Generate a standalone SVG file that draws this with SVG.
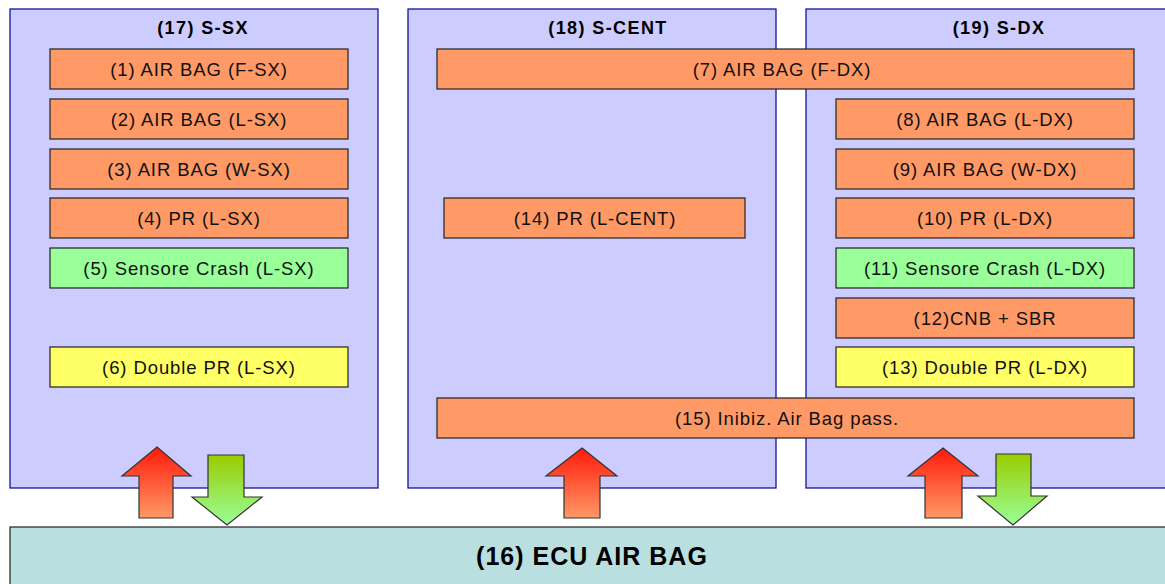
<svg xmlns="http://www.w3.org/2000/svg" width="1165" height="584" viewBox="0 0 1165 584">
<style>
.panel{fill:#ccccff;stroke:#000099;stroke-width:1.2}
.title{font-family:"Liberation Sans",Arial,sans-serif;font-size:18px;letter-spacing:1.4px;font-weight:bold;fill:#000;text-anchor:middle}
.ecut{font-family:"Liberation Sans",Arial,sans-serif;font-size:25px;letter-spacing:1px;font-weight:bold;fill:#000;text-anchor:middle}
.lbl{font-family:"Liberation Sans",Arial,sans-serif;font-size:18.5px;letter-spacing:0.9px;fill:#111;text-anchor:middle}
.o{fill:#ff9966;stroke:#222;stroke-width:1.2}
.g{fill:#99ff99;stroke:#222;stroke-width:1.2}
.y{fill:#ffff66;stroke:#222;stroke-width:1.2}
.ecu{fill:#b9dfe0;stroke:#222;stroke-width:1.2}
.up{fill:url(#redG);stroke:#333;stroke-width:1.2}
.dn{fill:url(#grnG);stroke:#333;stroke-width:1.2}
</style>
<defs>
<linearGradient id="redG" x1="0" y1="0" x2="0" y2="1"><stop offset="0" stop-color="#ff1a0a"/><stop offset="1" stop-color="#ff9966"/></linearGradient>
<linearGradient id="grnG" x1="0" y1="0" x2="0" y2="1"><stop offset="0" stop-color="#99cc00"/><stop offset="1" stop-color="#99ff99"/></linearGradient>
</defs>
<rect width="1165" height="584" fill="#fff"/>
<g id="panel-17"><rect class="panel" x="10" y="9" width="368" height="479"/><text class="title" x="203" y="34">(17) S-SX</text></g>
<g id="panel-18"><rect class="panel" x="408" y="9" width="368" height="479"/><text class="title" x="608" y="34">(18) S-CENT</text></g>
<g id="panel-19"><rect class="panel" x="806" y="9" width="368" height="479"/><text class="title" x="999" y="34">(19) S-DX</text></g>
<g id="ecu-16"><rect class="ecu" x="10" y="527" width="1165" height="70"/><text class="ecut" x="592" y="565">(16) ECU AIR BAG</text></g>
<g id="n1"><rect class="o" x="50" y="49" width="298" height="40"/><text class="lbl" x="199" y="76">(1) AIR BAG (F-SX)</text></g>
<g id="n2"><rect class="o" x="50" y="99" width="298" height="40"/><text class="lbl" x="199" y="126">(2) AIR BAG (L-SX)</text></g>
<g id="n3"><rect class="o" x="50" y="149" width="298" height="40"/><text class="lbl" x="199" y="176">(3) AIR BAG (W-SX)</text></g>
<g id="n4"><rect class="o" x="50" y="198" width="298" height="40"/><text class="lbl" x="199" y="225">(4) PR (L-SX)</text></g>
<g id="n5"><rect class="g" x="50" y="248" width="298" height="40"/><text class="lbl" x="199" y="275">(5) Sensore Crash (L-SX)</text></g>
<g id="n6"><rect class="y" x="50" y="347" width="298" height="40"/><text class="lbl" x="199" y="374">(6) Double PR (L-SX)</text></g>
<g id="n7"><rect class="o" x="437" y="49" width="697" height="40"/><text class="lbl" x="782" y="76">(7) AIR BAG (F-DX)</text></g>
<g id="n8"><rect class="o" x="836" y="99" width="298" height="40"/><text class="lbl" x="985" y="126">(8) AIR BAG (L-DX)</text></g>
<g id="n9"><rect class="o" x="836" y="149" width="298" height="40"/><text class="lbl" x="985" y="176">(9) AIR BAG (W-DX)</text></g>
<g id="n10"><rect class="o" x="836" y="198" width="298" height="40"/><text class="lbl" x="985" y="225">(10) PR (L-DX)</text></g>
<g id="n11"><rect class="g" x="836" y="248" width="298" height="40"/><text class="lbl" x="985" y="275">(11) Sensore Crash (L-DX)</text></g>
<g id="n12"><rect class="o" x="836" y="298" width="298" height="40"/><text class="lbl" x="985" y="325">(12)CNB + SBR</text></g>
<g id="n13"><rect class="y" x="836" y="347" width="298" height="40"/><text class="lbl" x="985" y="374">(13) Double PR (L-DX)</text></g>
<g id="n14"><rect class="o" x="444" y="198" width="301" height="40"/><text class="lbl" x="595" y="225">(14) PR (L-CENT)</text></g>
<g id="n15"><rect class="o" x="437" y="398" width="697" height="40"/><text class="lbl" x="787" y="425">(15) Inibiz. Air Bag pass.</text></g>
<g id="connectors">
<polygon class="up" points="157,447 191,476 173,476 173,518 139,518 139,476 122,476"/>
<polygon class="dn" points="208,455 244,455 244,497 262,497 227,525 192,497 208,497"/>
<polygon class="up" points="582,448 617,476 600,476 600,518 564,518 564,476 546,476"/>
<polygon class="up" points="943,448 978,476 962,476 962,518 925,518 925,476 908,476"/>
<polygon class="dn" points="996,454 1031,454 1031,496 1047,496 1013,525 978,496 996,496"/>
</g>
</svg>
